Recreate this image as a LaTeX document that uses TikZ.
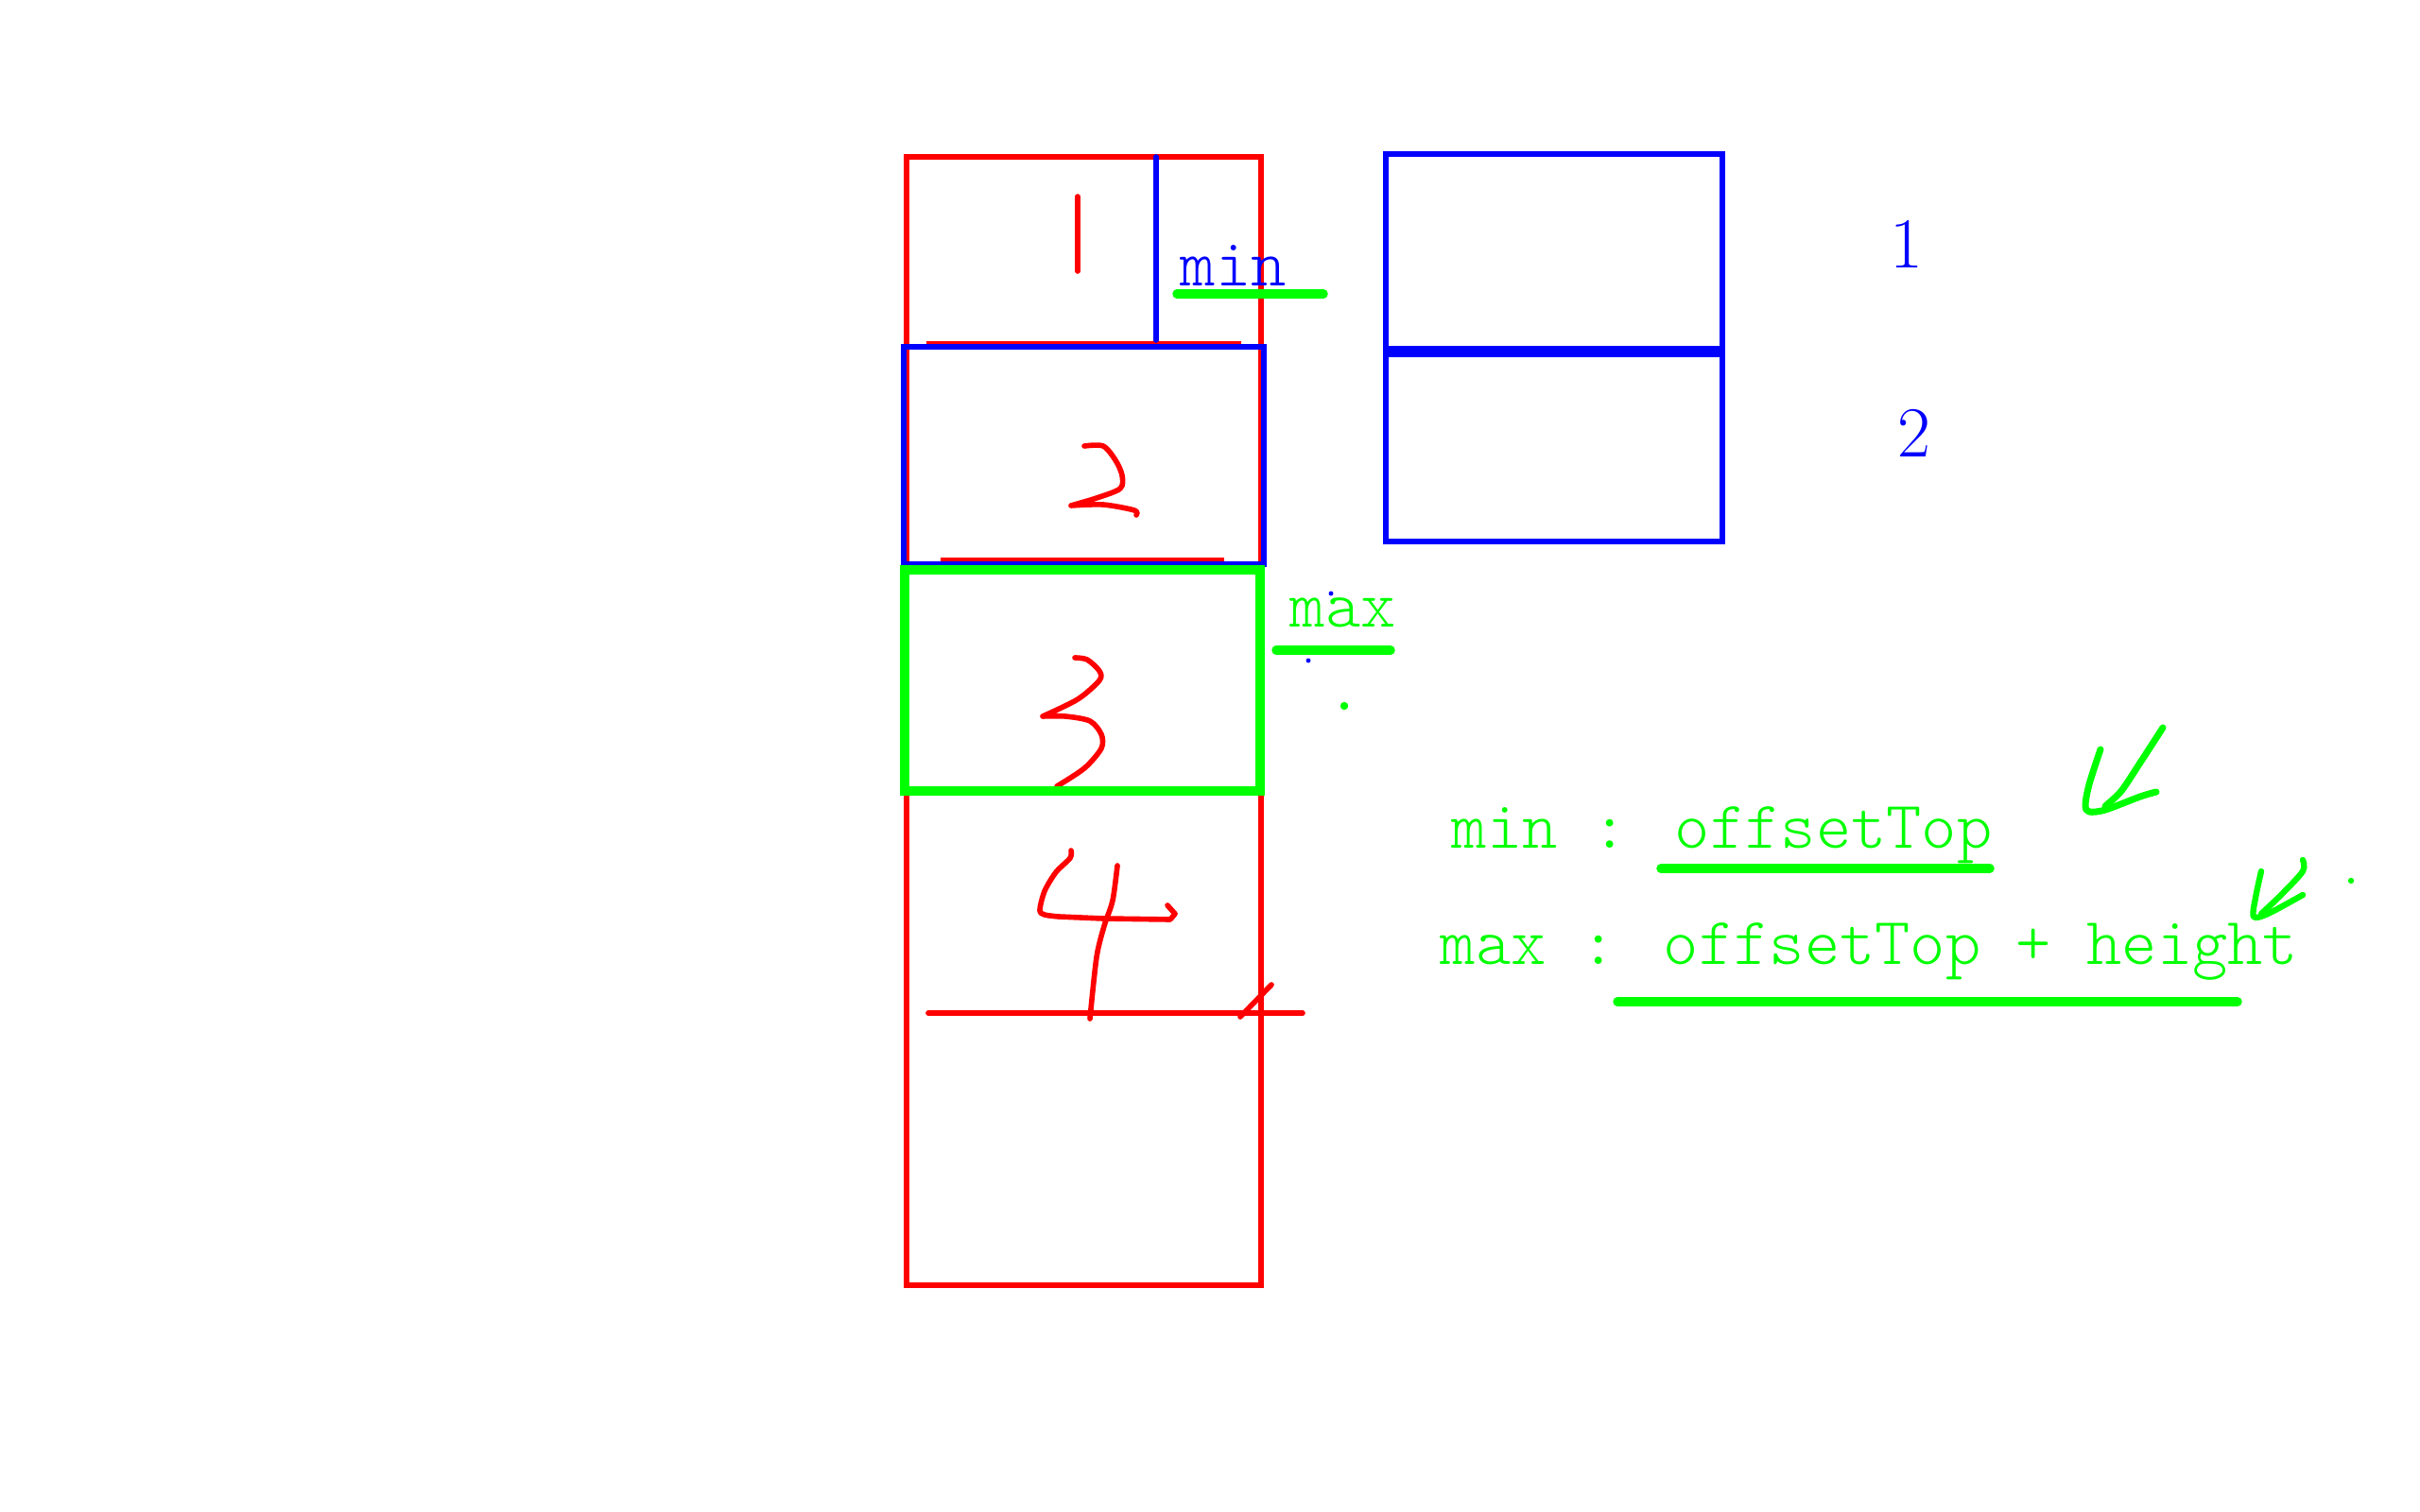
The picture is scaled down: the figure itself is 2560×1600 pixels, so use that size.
\documentclass[tikz,border=0pt]{standalone}
\usepackage{fontspec}
\usepackage{xcolor}
\usepackage{tikz}
\usetikzlibrary{positioning}
\newfontfamily\thinmono{Latin Modern Mono Light}
\definecolor{penred}{RGB}{255,0,0}
\definecolor{penblue}{RGB}{0,0,255}
\definecolor{pengreen}{RGB}{0,255,0}

\begin{document}
\begin{tikzpicture}[x=0.01cm,y=-0.01cm]
\tikzstyle{every node}=[inner sep=0pt,anchor=base west]
\tikzstyle{mono}=[font=\thinmono\fontsize{20.2}{24}\selectfont]
\tikzstyle{digit}=[font=\fontsize{21.6}{26}\selectfont,text=penblue,anchor=base]
\tikzstyle{redpen}=[draw=penred,line width=1.6pt]
\tikzstyle{bluepen}=[draw=penblue,line width=1.6pt]
\tikzstyle{hand}=[redpen,line cap=round,line join=round]
\tikzstyle{hilite}=[draw=pengreen,line width=2.7pt,line cap=round]
\tikzstyle{tick}=[draw=pengreen,line width=2pt,line cap=round,line join=round]
\useasboundingbox[fill=white] (0,0) rectangle (2560,1600);

\draw[redpen] (959,166) rectangle (1334,1360);
\draw[redpen] (980,364) -- (1313,364);
\draw[redpen] (995,593) -- (1295,593);
\draw[hand] (982,1072) -- (1378,1072);
\draw[hand] (1312,1076) -- (1345,1042);

\draw[hand] (1140,208) -- (1140,287);
\draw[hand] plot[smooth] coordinates {(1147,472) (1167,472) (1180,487) (1187,503) (1185,517) (1160,527) (1133,535)}
      plot[smooth] coordinates {(1133,535) (1167,534) (1200,540) (1202,545)};
\draw[hand] plot[smooth] coordinates {(1137,696) (1150,698) (1163,710) (1163,720) (1140,740) (1103,758)}
      plot[smooth] coordinates {(1103,758) (1127,758) (1153,763) (1165,777) (1165,792) (1147,813) (1118,832)};
\draw[hand] plot[smooth] coordinates {(1133,900) (1132,908) (1117,923) (1105,943) (1100,963) (1105,968) (1120,970)}
      -- (1167,972) -- (1238,973) -- (1243,967) -- (1235,958);
\draw[hand] plot[smooth] coordinates {(1182,916) (1177,953) (1168,980) (1160,1013) (1153,1078)};

\draw[bluepen,line cap=round] (1223,166) -- (1223,360);
\draw[bluepen] (956,367) rectangle (1337,597);
\draw[draw=pengreen,line width=2.6pt] (957,603) rectangle (1333,837);

\draw[bluepen] (1466,163) rectangle (1822,372);
\draw[bluepen] (1466,372) rectangle (1822,573);
\draw[bluepen,line width=3.2pt] (1466,372) -- (1822,372);

\node[mono,text=penblue] (MIN) at (1248,302) {min};
\node[mono,text=pengreen] (MAX) at (1364,663) {max};
\draw[hilite] (1245,311) -- (1400,311);
\draw[hilite] (1350,688) -- (1471,688);
\fill[penblue] (1408,628) circle (0.7pt);
\fill[penblue] (1384,699) circle (0.7pt);
\fill[pengreen] (1422,747) circle (1.2pt);

\node[digit] (ONE) at (2017,284) {1};
\node[digit] (TWO) at ([xshift=0.08cm,yshift=-1.99cm]ONE.base) {2};

\node[mono,text=pengreen] (MINF) at (1535,897) {min : offsetTop};
\node[mono,text=pengreen] (MAXF) at ([xshift=-0.12cm,yshift=-1.23cm]MINF.base west) {max : offsetTop + height};
\draw[hilite] (1757,919) -- (2105,919);
\draw[hilite] (1711,1060) -- (2367,1060);

\draw[tick] plot[smooth] coordinates {(2222,793) (2210,830) (2206,852) (2210,859) (2227,857) (2264,843) (2281,838)};
\draw[tick] plot[smooth] coordinates {(2288,770) (2264,807) (2244,837) (2227,853)};
\draw[tick,line width=1.8pt] plot[smooth] coordinates {(2392,922) (2386,950) (2384,970) (2399,967) (2436,947)};
\draw[tick,line width=1.8pt] plot[smooth] coordinates {(2436,910) (2436,922) (2413,947) (2392,967)};
\fill[pengreen] (2487,932) circle (0.9pt);
\end{tikzpicture}
\end{document}
